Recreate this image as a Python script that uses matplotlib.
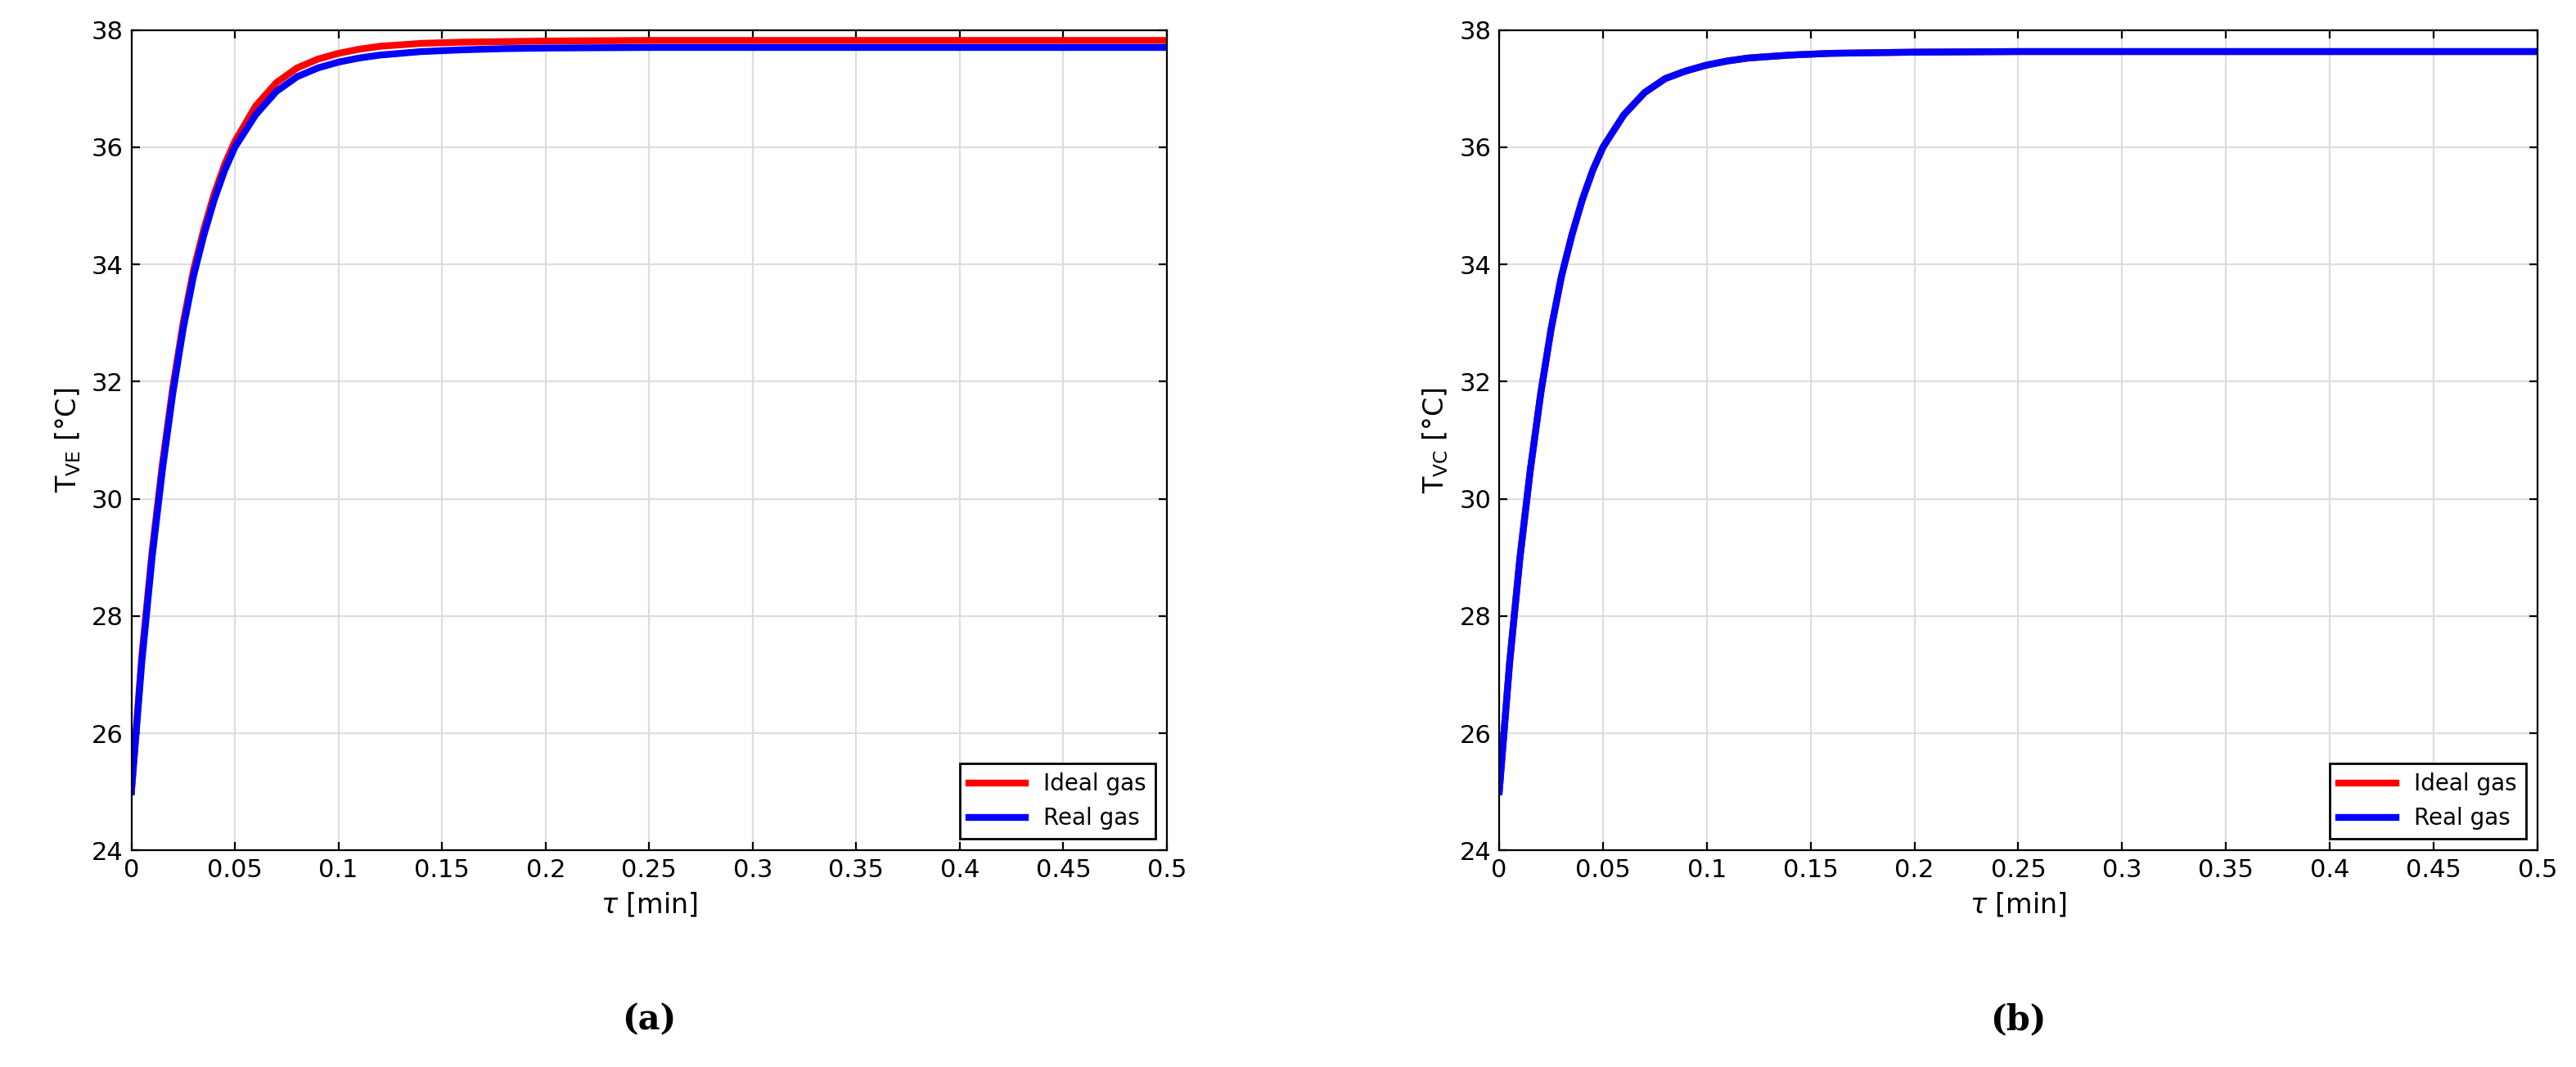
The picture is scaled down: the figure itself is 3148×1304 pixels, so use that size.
import matplotlib
matplotlib.use("Agg")
import matplotlib.pyplot as plt

t = [0, 0.005, 0.01, 0.015, 0.02, 0.025, 0.03, 0.035, 0.04, 0.045, 0.05, 0.06, 0.07, 0.08, 0.09, 0.10, 0.11, 0.12, 0.14, 0.16, 0.18, 0.20, 0.25, 0.30, 0.40, 0.50]
a_ideal = [25.0, 27.3, 29.1, 30.6, 31.9, 33.0, 33.9, 34.6, 35.2, 35.7, 36.1, 36.7, 37.1, 37.35, 37.5, 37.6, 37.67, 37.72, 37.77, 37.79, 37.8, 37.81, 37.82, 37.82, 37.82, 37.82]
a_real = [25.0, 27.2, 29.0, 30.5, 31.8, 32.9, 33.8, 34.5, 35.1, 35.6, 36.0, 36.55, 36.95, 37.2, 37.35, 37.45, 37.52, 37.57, 37.63, 37.66, 37.68, 37.69, 37.70, 37.70, 37.70, 37.70]
b_ideal = [25.0, 27.2, 29.0, 30.5, 31.8, 32.9, 33.8, 34.5, 35.1, 35.6, 36.0, 36.55, 36.93, 37.17, 37.3, 37.4, 37.47, 37.52, 37.57, 37.6, 37.61, 37.62, 37.63, 37.63, 37.63, 37.63]
b_real = b_ideal
xticks = [0, 0.05, 0.1, 0.15, 0.2, 0.25, 0.3, 0.35, 0.4, 0.45, 0.5]
xticklabels = ["0", "0.05", "0.1", "0.15", "0.2", "0.25", "0.3", "0.35", "0.4", "0.45", "0.5"]
yticks = [24, 26, 28, 30, 32, 34, 36, 38]

fig = plt.figure(figsize=(15.74, 6.52), dpi=200)
axes = [fig.add_axes([0.051, 0.203, 0.402, 0.769]), fig.add_axes([0.582, 0.203, 0.403, 0.769])]
data = [(a_ideal, a_real, r"T$_{\mathregular{VE}}$ [$\degree$C]", "(a)"),
        (b_ideal, b_real, r"T$_{\mathregular{VC}}$ [$\degree$C]", "(b)")]
for ax, (yi, yr, yl, lab) in zip(axes, data):
    ax.plot(t, yi, color="red", lw=3, label="Ideal gas")
    ax.plot(t, yr, color="blue", lw=3, label="Real gas")
    ax.set_xlim(0, 0.5); ax.set_ylim(24, 38)
    ax.set_xticks(xticks); ax.set_xticklabels(xticklabels)
    ax.set_yticks(yticks)
    ax.grid(True, color="#dddddd", lw=0.8)
    ax.tick_params(labelsize=11, direction="in", top=True, right=True)
    ax.set_xlabel(r"$\tau$ [min]", fontsize=12)
    ax.set_ylabel(yl, fontsize=12)
    ax.legend(loc="lower right", fontsize=10, fancybox=False, edgecolor="black", framealpha=1, handlelength=2.5, borderaxespad=0.5)
    pos = ax.get_position()
    fig.text((pos.x0 + pos.x1) / 2, 0.035, lab, ha="center", fontsize=15, family="DejaVu Serif", fontweight="bold")
fig.savefig("out.png")
